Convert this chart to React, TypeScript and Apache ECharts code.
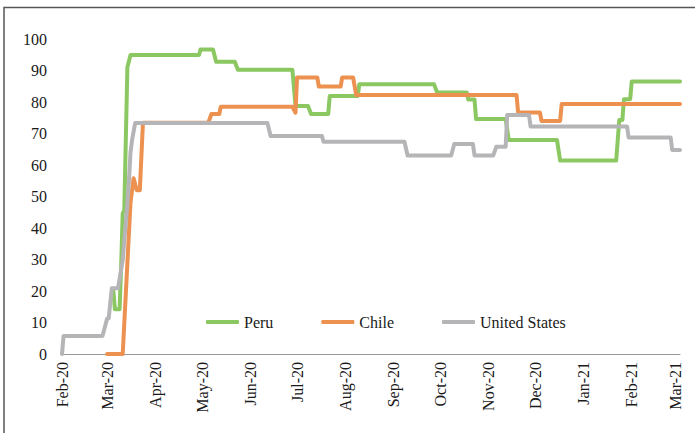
import React, { useEffect, useRef } from "react";
import * as echarts from "echarts";

const seriesNames = ["Peru", "Chile", "United States"];

const peru: [string, number][] = [
  ["2020-03-05", 20], ["2020-03-06", 14.2], ["2020-03-09", 14.2], ["2020-03-10", 28],
  ["2020-03-11", 44.7], ["2020-03-12", 45.5], ["2020-03-14", 91], ["2020-03-16", 94.9],
  ["2020-04-29", 94.9], ["2020-04-30", 96.7], ["2020-05-08", 96.7], ["2020-05-10", 92.8],
  ["2020-05-22", 92.8], ["2020-05-24", 90.2], ["2020-06-28", 90.2], ["2020-06-30", 78.7],
  ["2020-07-08", 78.7], ["2020-07-10", 76.2], ["2020-07-21", 76.2], ["2020-07-22", 81.9],
  ["2020-08-09", 81.9], ["2020-08-10", 85.6], ["2020-09-27", 85.6], ["2020-09-29", 83],
  ["2020-10-18", 83], ["2020-10-19", 80.8], ["2020-10-23", 80.8], ["2020-10-24", 74.6],
  ["2020-11-12", 74.6], ["2020-11-14", 67.9], ["2020-12-15", 67.9], ["2020-12-17", 61.4],
  ["2021-01-22", 61.4], ["2021-01-24", 74.3], ["2021-01-26", 74.3], ["2021-01-27", 80.9],
  ["2021-01-31", 80.9], ["2021-02-01", 86.5], ["2021-03-04", 86.5],
];

const chile: [string, number][] = [
  ["2020-03-01", 0], ["2020-03-11", 0], ["2020-03-16", 48], ["2020-03-18", 55.8],
  ["2020-03-20", 52], ["2020-03-22", 52], ["2020-03-24", 73.4], ["2020-05-05", 73.4],
  ["2020-05-07", 76.2], ["2020-05-12", 76.2], ["2020-05-13", 78.5], ["2020-06-28", 78.5],
  ["2020-06-30", 76.6], ["2020-07-01", 87.8], ["2020-07-14", 87.8], ["2020-07-15", 84.9],
  ["2020-07-29", 84.9], ["2020-07-30", 87.8], ["2020-08-06", 87.8], ["2020-08-08", 82.2],
  ["2020-11-19", 82.2], ["2020-11-20", 76.7], ["2020-12-04", 76.7], ["2020-12-05", 74],
  ["2020-12-17", 74], ["2020-12-18", 79.4], ["2021-03-04", 79.4],
];

const unitedStates: [string, number][] = [
  ["2020-02-01", 0], ["2020-02-02", 5.7], ["2020-02-27", 5.7], ["2020-03-01", 11.3],
  ["2020-03-02", 11.3], ["2020-03-04", 20.9], ["2020-03-08", 20.9], ["2020-03-11", 29.8],
  ["2020-03-14", 48], ["2020-03-15", 55], ["2020-03-16", 64], ["2020-03-17", 67.9],
  ["2020-03-19", 73.3], ["2020-06-12", 73.3], ["2020-06-14", 69.2], ["2020-07-17", 69.2],
  ["2020-07-18", 67.4], ["2020-09-08", 67.4], ["2020-09-10", 63], ["2020-10-08", 63],
  ["2020-10-10", 66.7], ["2020-10-22", 66.7], ["2020-10-23", 63], ["2020-11-04", 63],
  ["2020-11-06", 65.8], ["2020-11-12", 65.8], ["2020-11-13", 75.9], ["2020-11-27", 75.9],
  ["2020-11-28", 72.2], ["2021-01-29", 72.2], ["2021-01-30", 68.7], ["2021-02-26", 68.7],
  ["2021-02-27", 64.8], ["2021-03-04", 64.8],
];

const monthTicks = [
  "2020-02-01", "2020-03-01", "2020-04-01", "2020-05-01", "2020-06-01", "2020-07-01",
  "2020-08-01", "2020-09-01", "2020-10-01", "2020-11-01", "2020-12-01", "2021-01-01",
  "2021-02-01", "2021-03-01",
];
const monthLabels = [
  "Feb-20", "Mar-20", "Apr-20", "May-20", "Jun-20", "Jul-20", "Aug-20", "Sep-20",
  "Oct-20", "Nov-20", "Dec-20", "Jan-21", "Feb-21", "Mar-21",
];

const xMin = "2020-02-01";
const xMax = "2021-03-04";

const colors = ["#8BC862", "#EC9150", "#B5B5B8"];

function toTs(s: string): number {
  const [y, m, d] = s.split("-").map(Number);
  return Date.UTC(y, m - 1, d);
}

export default function App() {
  const ref = useRef<HTMLDivElement>(null);
  useEffect(() => {
    if (!ref.current) return;
    const chart = echarts.init(ref.current, null, { renderer: "svg" });
    const tickTs = monthTicks.map(toTs);
    const font = "Liberation Serif";
    const mk = (name: string, data: [string, number][], color: string) => ({
      name,
      type: "line",
      data: data.map(([d, v]) => [toTs(d), v]),
      symbol: "none",
      lineStyle: { color, width: 4, cap: "round", join: "round" },
      itemStyle: { color },
      silent: true,
    });
    chart.setOption({
      animation: false,
      backgroundColor: "#ffffff",
      textStyle: { fontFamily: font },
      grid: { left: 62, right: 15, top: 39, bottom: 79, outerBoundsMode: "none" },
      legend: {
        data: seriesNames,
        left: 201,
        top: 309,
        icon: "roundRect",
        itemWidth: 33,
        itemHeight: 4,
        itemGap: 48,
        textStyle: { fontFamily: font, fontSize: 16, fontWeight: "normal", color: "#1a1a1a" },
      },
      xAxis: {
        type: "value",
        min: toTs(xMin),
        max: toTs(xMax),
        axisLine: { show: true, lineStyle: { color: "#999999", width: 1 } },
        axisTick: { show: false },
        splitLine: { show: false },
        axisLabel: {
          customValues: tickTs,
          rotate: 90,
          margin: 8,
          fontFamily: font,
          fontSize: 16,
          color: "#1a1a1a",
          formatter: (val: number) => {
            const i = tickTs.indexOf(val);
            return i >= 0 ? monthLabels[i] : "";
          },
        },
      },
      yAxis: {
        type: "value",
        min: 0,
        max: 100,
        interval: 10,
        axisLine: { show: false },
        axisTick: { show: false },
        splitLine: { show: false },
        axisLabel: { margin: 15, fontFamily: font, fontSize: 16, color: "#1a1a1a" },
      },
      series: [
        mk(seriesNames[0], peru, colors[0]),
        mk(seriesNames[1], chile, colors[1]),
        mk(seriesNames[2], unitedStates, colors[2]),
      ],
      graphic: [
        {
          type: "rect",
          shape: { x: 4, y: 7.5, width: 720, height: 460 },
          style: { fill: "none", stroke: "#555555", lineWidth: 1.5 },
          silent: true,
        },
      ],
    });
    return () => chart.dispose();
  }, []);
  return (
    <div
      ref={ref}
      style={{ position: "fixed", left: 0, top: 0, width: 695, height: 433 }}
    />
  );
}
